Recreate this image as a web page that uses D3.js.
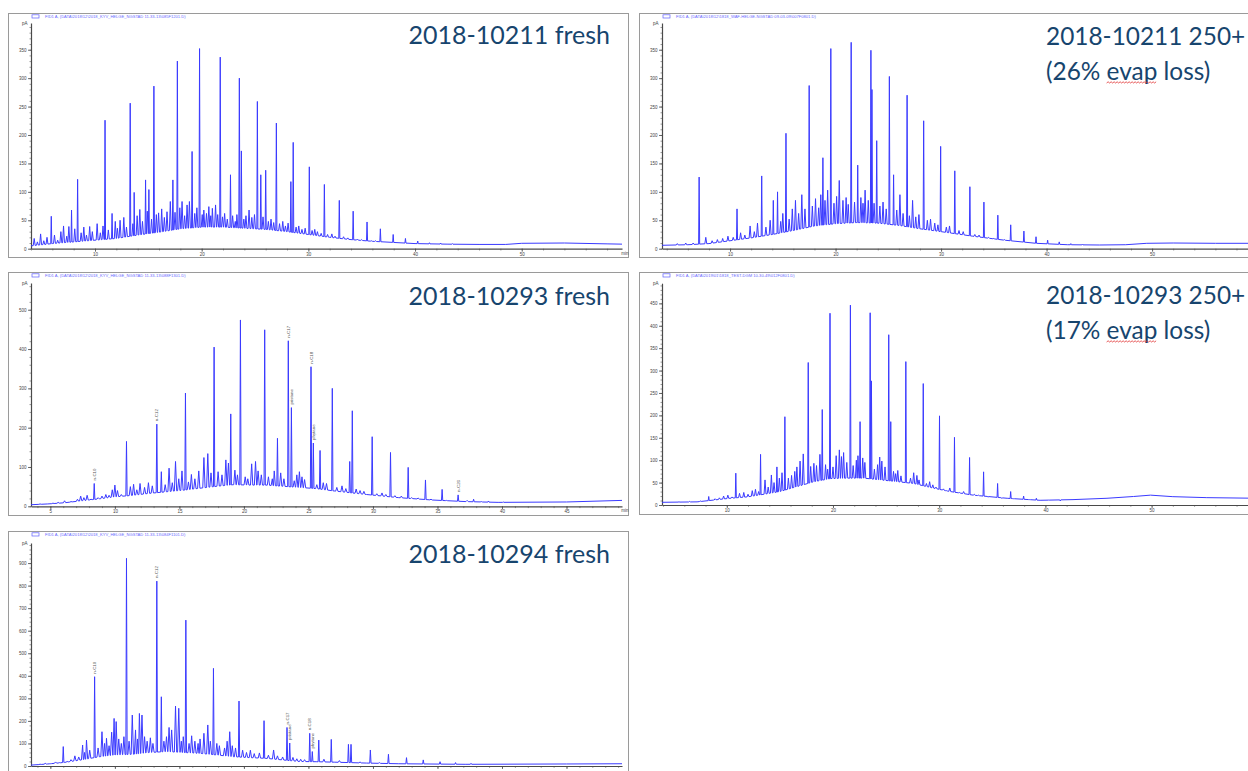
<!DOCTYPE html>
<html>
<head>
<meta charset="utf-8">
<script src="https://cdn.jsdelivr.net/npm/d3@7"></script>
<style>
  body { margin: 0; background: #fff; }
  svg { display: block; }
</style>
</head>
<body>
<svg id="chart" width="1248" height="771"></svg>
<script>
// ---- data: [time (min), signal (pA)] ----

// 2018-10211 fresh
var p1Base = [[4,5],[6,9],[8,12],[10,15],[12,18],[14,24],[16,29],[18,35],[20,38],[22,38],[24,36],[26,34],[28,30],[30,25],[32,20],[34,16],[36,13],[38,11],[40,9],[43,8],[46,7.5],[48.5,7.5],[50,9.5],[54,10],[58,8.5],[59.4,8]];
var p1Peaks = [[5.9,57],[7.8,68],[8.37,122],[10.94,226],[11.6,62],[13.3,256],[13.67,99],[14.74,121],[15.05,104],[15.52,286],[17.3,121],[17.72,330],[19.1,171],[19.8,352],[21.74,337],[22.7,130],[23.53,300],[23.72,172],[25.22,259],[25.54,130],[26.0,138],[27.0,221],[28.36,118],[28.58,187],[30.09,144],[31.5,113],[32.9,85],[34.2,66],[35.5,47],[36.75,35],[37.95,25],[39.1,18],[40.25,13.5],[41.35,10.5],[42.4,10],[43.5,9]];
var p1Minor = [[4.3,18],[4.6,12],[4.9,26],[5.2,14],[5.5,20],[6.2,24],[6.5,15],[6.8,30],[7.05,40],[7.35,22],[7.55,39],[8.1,35],[8.7,28],[8.95,38],[9.2,24],[9.5,39],[9.75,30],[10.2,44],[10.5,28],[10.75,40],[11.25,33],[11.9,48],[12.1,36],[12.35,50],[12.7,55],[12.95,38],[13.55,44],[13.95,58],[14.2,69],[14.45,48],[14.9,66],[15.3,52],[15.75,60],[15.96,63],[16.25,70],[16.5,55],[16.75,65],[17.06,83],[17.5,64],[17.95,72],[18.16,83],[18.4,58],[18.63,77],[18.85,83],[19.35,62],[19.55,72],[20.05,60],[20.2,68],[20.45,62],[20.67,74],[20.85,58],[21.0,71],[21.3,77],[21.5,60],[21.95,56],[22.15,62],[22.4,52],[22.9,58],[23.15,48],[23.3,60],[23.95,52],[24.15,58],[24.44,68],[24.7,55],[24.95,60],[25.75,56],[26.25,48],[26.5,52],[26.75,46],[27.3,44],[27.6,48],[27.85,40],[28.1,45],[28.85,38],[29.1,40],[29.4,34],[29.7,36],[30.35,32],[30.6,34],[30.85,30],[31.2,27],[31.8,25],[32.2,26],[32.5,22],[33.3,21],[33.7,19],[34.6,17],[35.0,16],[35.9,14],[36.3,14]];

// 2018-10211 250+
var p2Base = [[3.55,6],[6,7],[8,9],[10,14],[12,19],[14,25],[16,32],[18,40],[20,44],[22,46],[24,45],[26,41],[28,35],[30,30],[33,22],[36,15],[39,9.5],[42,7],[45,6.5],[47.5,7],[49.5,9.5],[52,10],[56,9.5],[60,9.5]];
var p2Peaks = [[7.07,126],[10.66,70],[13.0,128],[14.1,85],[14.5,100],[15.3,203],[17.5,287],[18.8,160],[19.55,352],[21.48,363],[22.1,147],[23.35,349],[23.45,280],[23.9,190],[25.1,303],[25.5,130],[26.78,270],[28.35,225],[29.96,180],[31.3,137],[32.73,109],[34.06,82],[35.38,59],[36.6,42],[37.85,31],[39.0,21],[40.1,15],[41.2,12],[42.3,9],[43.4,8]];
var p2Minor = [[5.0,9],[5.8,10],[6.5,10],[7.7,20],[8.3,14],[8.8,16],[9.3,18],[9.8,22],[10.3,20],[11.0,28],[11.4,24],[11.9,40],[12.3,30],[12.6,45],[13.4,38],[13.8,50],[14.8,48],[15.0,62],[15.6,52],[15.9,70],[16.2,85],[16.5,62],[16.8,95],[17.1,70],[17.8,75],[18.1,88],[18.4,72],[18.6,95],[19.0,85],[19.25,103],[19.85,80],[20.1,92],[20.35,120],[20.7,85],[21.0,90],[21.2,78],[21.8,82],[22.4,90],[22.6,80],[22.8,103],[23.1,85],[23.65,80],[24.2,75],[24.5,82],[24.8,70],[25.8,68],[26.1,95],[26.4,62],[27.0,58],[27.3,85],[27.6,56],[27.9,60],[28.7,50],[29.0,52],[29.4,45],[29.7,42],[30.5,38],[30.8,40],[31.7,32],[32.1,30],[33.2,25],[33.6,24],[34.5,20],[35.0,18],[36.0,16]];

// 2018-10293 fresh
var p3Base = [[3.5,4],[4.8,6],[6.1,9],[7.4,14],[8.8,19],[10,24],[11.4,28],[12.7,33],[14,37],[15.3,41],[16.6,46],[17.9,51],[19.2,55],[20.5,54],[21.7,54],[23,51],[24.3,48],[25.6,45],[27,39],[29.5,30],[32,22],[34.6,16],[37.2,12],[39.7,10],[45,11],[49.3,15]];
var p3Peaks = [[8.4,58],[10.9,165],[13.25,209],[13.6,88],[15.47,288],[17.69,405],[18.98,235],[19.73,474],[21.61,449],[22.6,173],[23.44,421],[23.68,251],[25.2,355],[25.38,161],[25.9,142],[26.85,300],[28.2,114],[28.4,243],[29.94,177],[31.36,137],[32.73,99],[34.07,67],[35.36,43],[36.6,29],[37.8,18],[38.95,13.5],[40.1,11]];
var p3Minor = [[4.2,6],[5.2,8],[5.6,10],[6.1,14],[6.6,12],[7.1,18],[7.35,26],[7.6,22],[7.85,28],[8.15,18],[8.7,22],[9.0,26],[9.3,30],[9.55,28],[9.8,42],[10.0,54],[10.2,40],[10.5,30],[11.2,50],[11.45,56],[11.7,42],[11.95,58],[12.3,48],[12.6,60],[12.9,52],[13.9,55],[14.2,97],[14.45,60],[14.7,114],[14.95,70],[15.2,90],[15.7,62],[15.93,81],[16.2,70],[16.5,90],[16.9,124],[17.2,134],[17.45,85],[18.0,88],[18.3,80],[18.6,118],[18.8,110],[19.3,92],[19.5,80],[20.1,75],[20.3,70],[20.6,108],[20.9,114],[21.1,90],[21.35,80],[21.9,75],[22.2,70],[22.35,90],[22.85,85],[23.1,70],[23.9,65],[24.1,80],[24.3,88],[24.5,75],[24.7,68],[25.65,55],[26.15,60],[26.4,58],[27.2,48],[27.6,52],[27.9,45],[28.7,44],[29.0,40],[29.3,38],[30.3,32],[30.7,34],[31.0,30],[31.7,27],[32.2,26],[33.0,22],[33.5,21],[34.5,18],[35.7,15],[37.3,15],[38.4,12]];
var p3Labels = [[8.4,58,"n-C10"],[13.25,209,"n-C12"],[23.44,421,"n-C17"],[23.68,251,"pristane"],[25.2,355,"n-C18"],[25.38,161,"phytane"],[36.6,29,"n-C26"]];

// 2018-10293 250+
var p4Base = [[3.9,6],[7.2,7],[8.75,11],[10.3,15],[11.9,18],[13.5,24],[15,30],[16.6,41],[18.2,52],[19.8,59],[21.3,60],[22.9,60],[24.5,56],[26.1,52],[27.6,48],[29.2,39],[30.8,31],[33.2,22],[36.4,15],[39.5,10.5],[42.6,12],[45.8,15],[48.3,19],[49.9,22],[52,18.6],[55.2,16.4],[60,15]];
var p4Peaks = [[8.3,19],[10.85,71],[13.18,113],[14.72,85],[15.47,197],[17.67,318],[18.99,213],[19.72,428],[21.64,446],[22.55,186],[23.5,429],[23.62,277],[25.25,380],[25.44,186],[26.86,320],[28.5,271],[30.03,199],[31.44,151],[32.86,106],[34.18,74],[35.5,48],[36.73,30],[37.95,20],[39.15,15],[40.3,11],[41.4,9]];
var p4Minor = [[5.5,7],[6.5,8],[7.5,9],[8.9,14],[9.3,16],[9.7,20],[10.1,22],[10.5,18],[11.2,26],[11.6,28],[12.0,24],[12.4,32],[12.7,35],[13.0,30],[13.6,56],[13.9,40],[14.2,67],[14.45,50],[14.95,60],[15.2,72],[15.8,60],[16.1,66],[16.4,75],[16.6,85],[16.9,98],[17.2,114],[17.9,86],[18.2,93],[18.45,88],[18.77,113],[19.3,90],[19.5,80],[20.0,85],[20.3,110],[20.6,123],[20.8,108],[21.0,117],[21.3,95],[21.9,88],[22.2,100],[22.35,110],[22.8,105],[23.0,95],[23.9,80],[24.2,90],[24.4,107],[24.6,98],[24.9,85],[25.7,75],[25.9,70],[26.1,77],[26.4,65],[27.3,60],[27.6,72],[27.9,66],[28.1,56],[28.8,48],[29.1,52],[29.4,45],[29.7,40],[30.4,36],[30.7,32],[31.0,38],[31.9,28],[32.3,30],[33.3,24],[33.7,22],[34.6,18],[35.9,15],[37.0,14],[38.5,12]];

// 2018-10294 fresh
var p5Base = [[3.5,4],[4.8,9],[6.1,16],[7.4,27],[8.8,41],[10,49],[11.4,52],[12.7,60],[14,64],[15.3,60],[16.6,56],[17.9,49],[19.2,41],[20.5,37],[21.7,34],[23,27],[24.3,20],[25.6,19],[27,17],[29.5,13],[32,10],[37.2,7.5],[45,9],[49.3,10]];
var p5Peaks = [[6.0,86],[8.43,396],[10.9,921],[13.25,820],[13.6,307],[15.5,647],[17.64,433],[19.62,288],[21.56,201],[23.34,171],[23.55,102],[25.1,145],[25.3,64],[25.8,115],[26.77,118],[28.1,96],[28.3,96],[29.8,71],[31.2,52],[32.6,37],[33.9,27],[35.2,19],[36.4,15],[37.6,12]];
var p5Minor = [[4.2,8],[4.6,12],[5.0,10],[5.4,18],[5.7,15],[6.3,20],[6.6,28],[6.9,45],[7.2,40],[7.5,93],[7.65,60],[7.8,115],[8.05,70],[8.7,80],[9.0,152],[9.2,100],[9.35,123],[9.55,90],[9.75,150],[9.94,211],[10.1,197],[10.3,120],[10.5,100],[10.7,130],[11.1,110],[11.35,226],[11.6,160],[11.75,120],[11.9,233],[12.1,226],[12.3,130],[12.5,110],[12.75,125],[12.95,100],[13.8,110],[14.0,130],[14.2,171],[14.4,160],[14.7,266],[14.95,256],[15.15,110],[15.3,130],[15.75,100],[15.95,134],[16.2,110],[16.45,100],[16.6,120],[16.9,145],[17.2,182],[17.4,110],[17.9,100],[18.1,90],[18.5,80],[18.7,110],[18.9,152],[19.1,90],[19.35,80],[19.9,70],[20.2,60],[20.5,70],[20.8,55],[21.2,58],[21.9,48],[22.3,71],[22.6,45],[23.0,40],[23.8,38],[24.1,32],[24.4,30],[24.7,28],[26.2,30],[27.4,24],[29.0,18],[30.5,15]];
var p5Labels = [[8.43,396,"n-C10"],[13.25,820,"n-C12"],[23.34,171,"n-C17"],[23.55,102,"pristane"],[25.1,145,"n-C18"],[25.3,64,"phytane"]];

var xTicks10 = [10, 20, 30, 40, 50];
var xTicks5 = [5, 10, 15, 20, 25, 30, 35, 40, 45];
var yTicks400 = [0, 50, 100, 150, 200, 250, 300, 350];
var yTicks500 = [0, 100, 200, 300, 400, 500];
var yTicks450 = [0, 50, 100, 150, 200, 250, 300, 350, 400, 450];
var yTicks900 = [0, 100, 200, 300, 400, 500, 600, 700, 800, 900];

var panels = [
  {title: ["2018-10211 fresh"], legend: "FID1 A, (DATA\\2018\\12\\2018_KYV_HELGE_NGSTAD 11-33-13\\085F1201.D)",
   base: p1Base, peaks: p1Peaks, minor: p1Minor, labels: [], xLabels: true,
   box: [8, 13, 628, 257], xDom: [4, 59.4], xRange: [31, 622], yDom: [0, 397], yRange: [248.7, 23],
   xTicks: xTicks10, xMinorStep: 2, yTicks: yTicks400, yMinorStep: 10, titleX: 610, titleAnchor: "end", titleY: 44, titleSize: 25},
  {title: ["2018-10211 250+", "(26% evap loss)"], legend: "FID1 A, (DATA\\2018\\12\\1818_WAF-HELGE-NGSTAD 09-03-09\\007F0801.D)",
   base: p2Base, peaks: p2Peaks, minor: p2Minor, labels: [], xLabels: true,
   box: [639, 13, 1262, 257], xDom: [3.55, 60], xRange: [662, 1257.6], yDom: [0, 397], yRange: [248.7, 23],
   xTicks: xTicks10, xMinorStep: 2, yTicks: yTicks400, yMinorStep: 10, titleX: 1046, titleAnchor: "start", titleY: 45, titleSize: 24.4},
  {title: ["2018-10293 fresh"], legend: "FID1 A, (DATA\\2018\\12\\2018_KYV_HELGE_NGSTAD 11-33-13\\088F1301.D)",
   base: p3Base, peaks: p3Peaks, minor: p3Minor, labels: p3Labels, xLabels: true,
   box: [8, 272, 628, 515], xDom: [3.5, 49.3], xRange: [31, 622], yDom: [0, 568], yRange: [506.3, 283],
   xTicks: xTicks5, xMinorStep: 1, yTicks: yTicks500, yMinorStep: 20, titleX: 610, titleAnchor: "end", titleY: 305, titleSize: 25},
  {title: ["2018-10293 250+", "(17% evap loss)"], legend: "FID1 A, (DATA\\2019\\01\\1818_TEST-DGM 10-30-49\\012F0801.D)",
   base: p4Base, peaks: p4Peaks, minor: p4Minor, labels: [], xLabels: true,
   box: [639, 272, 1262, 514], xDom: [3.9, 60], xRange: [662, 1257.8], yDom: [0, 495], yRange: [505, 283.2],
   xTicks: xTicks10, xMinorStep: 2, yTicks: yTicks450, yMinorStep: 10, titleX: 1046, titleAnchor: "start", titleY: 304, titleSize: 24.4},
  {title: ["2018-10294 fresh"], legend: "FID1 A, (DATA\\2018\\12\\2018_KYV_HELGE_NGSTAD 11-33-13\\084F1101.D)",
   base: p5Base, peaks: p5Peaks, minor: p5Minor, labels: p5Labels, xLabels: false,
   box: [8, 531, 628, 790], xDom: [3.5, 49.3], xRange: [31, 622], yDom: [0, 989], yRange: [766, 543],
   xTicks: xTicks5, xMinorStep: 1, yTicks: yTicks900, yMinorStep: 20, titleX: 610, titleAnchor: "end", titleY: 563, titleSize: 25}
];

var svg = d3.select("#chart");
var small = "Liberation Sans, Arial, sans-serif";
var traceColor = "#3a3aff";
var titleFont = "Lato, 'Open Sans', sans-serif";

// value of the hump (baseline) at time t, used for the feet of each spike
function baseAt(base, t) {
  var i = d3.bisector(function(d) { return d[0]; }).right(base, t);
  if (i <= 0) return base[0][1];
  if (i >= base.length) return base[base.length - 1][1];
  var a = base[i - 1], b = base[i];
  return a[1] + (b[1] - a[1]) * (t - a[0]) / (b[0] - a[0]);
}

function tracePoints(p) {
  var spikes = p.peaks.map(function(d) { return {t: d[0], v: d[1], w: 0.05}; })
    .concat(p.minor.map(function(d) { return {t: d[0], v: d[1], w: 0.09}; }));
  var pts = [];
  p.base.forEach(function(b) {
    if (!spikes.some(function(s) { return Math.abs(s.t - b[0]) < s.w; })) pts.push([b[0], b[1]]);
  });
  spikes.forEach(function(s) {
    pts.push([s.t - s.w, baseAt(p.base, s.t - s.w)]);
    pts.push([s.t, s.v]);
    pts.push([s.t + s.w, baseAt(p.base, s.t + s.w)]);
  });
  pts.sort(function(a, b) { return a[0] - b[0]; });
  return pts;
}

function styleAxis(sel) {
  sel.select(".domain").attr("stroke", "#4a4a4a").attr("stroke-width", 1.2);
  sel.selectAll(".tick line").attr("stroke", "#4a4a4a").attr("stroke-width", 0.8);
  sel.selectAll(".tick text").attr("font-size", "4.5px").attr("fill", "#444").attr("font-family", small);
}

function squiggle(g, x0, x1, yy) {
  var path = d3.path();
  path.moveTo(x0, yy);
  var up = true;
  for (var xx = x0 + 1.5; xx <= x1; xx += 1.5) {
    path.lineTo(xx, up ? yy - 1.2 : yy);
    up = !up;
  }
  g.append("path").attr("d", path.toString()).attr("fill", "none")
    .attr("stroke", "#e03030").attr("stroke-width", 0.8);
}

panels.forEach(function(p) {
  var g = svg.append("g");
  var b = p.box;

  g.append("rect")
    .attr("x", b[0] + 0.5).attr("y", b[1] + 0.5)
    .attr("width", b[2] - b[0]).attr("height", b[3] - b[1])
    .attr("fill", "#fff").attr("stroke", "#9a9a9a").attr("stroke-width", 1);

  var x = d3.scaleLinear().domain(p.xDom).range(p.xRange);
  var y = d3.scaleLinear().domain(p.yDom).range(p.yRange);

  // legend line on top
  g.append("rect").attr("x", b[0] + 24).attr("y", b[1] + 1.8).attr("width", 7).attr("height", 3.2)
    .attr("fill", "none").attr("stroke", "#6060ff").attr("stroke-width", 0.7);
  g.append("text").attr("x", b[0] + 37).attr("y", b[1] + 4.8)
    .attr("font-size", "4.1px").attr("font-family", small).attr("fill", "#6a6aff")
    .text(p.legend);

  // y axis
  var yMinor = d3.range(0, p.yDom[1], p.yMinorStep);
  g.append("g").attr("transform", "translate(" + p.xRange[0] + ",0)")
    .call(d3.axisLeft(y).tickValues(yMinor).tickSize(1.5).tickFormat(""))
    .call(function(s) { s.select(".domain").remove(); s.selectAll(".tick line").attr("stroke", "#555").attr("stroke-width", 0.6); });
  g.append("g").attr("transform", "translate(" + p.xRange[0] + ",0)")
    .call(d3.axisLeft(y).tickValues(p.yTicks).tickSize(3).tickPadding(1.5).tickSizeOuter(0))
    .call(styleAxis);
  g.append("text").attr("x", p.xRange[0] - 3.5).attr("y", p.yRange[1] + 2).attr("text-anchor", "end")
    .attr("font-size", "4.5px").attr("font-family", small).attr("fill", "#444").text("pA");

  // x axis
  var xMinor = d3.range(Math.ceil(p.xDom[0] / p.xMinorStep) * p.xMinorStep, p.xDom[1], p.xMinorStep);
  g.append("g").attr("transform", "translate(0," + p.yRange[0] + ")")
    .call(d3.axisBottom(x).tickValues(xMinor).tickSize(1.8).tickFormat(""))
    .call(function(s) { s.select(".domain").remove(); s.selectAll(".tick line").attr("stroke", "#555").attr("stroke-width", 0.6); });
  var xAxis = d3.axisBottom(x).tickValues(p.xTicks).tickSize(3).tickPadding(1).tickSizeOuter(0);
  if (!p.xLabels) xAxis.tickFormat("");
  g.append("g").attr("transform", "translate(0," + p.yRange[0] + ")")
    .call(xAxis)
    .call(styleAxis);
  if (p.xLabels && p.xRange[1] < 1248) {
    g.append("text").attr("x", p.xRange[1] + 3).attr("y", p.yRange[0] + 6).attr("text-anchor", "middle")
      .attr("font-size", "4.5px").attr("font-family", small).attr("fill", "#444").text("min");
  }

  // chromatogram trace
  var line = d3.line().x(function(d) { return x(d[0]); }).y(function(d) { return y(d[1]); });
  g.append("path").datum(tracePoints(p))
    .attr("d", line)
    .attr("fill", "none").attr("stroke", traceColor).attr("stroke-width", 1)
    .attr("stroke-linejoin", "round");

  // peak annotations
  p.labels.forEach(function(l) {
    g.append("text")
      .attr("transform", "translate(" + (x(l[0]) + 1.5) + "," + (y(l[1]) - 3) + ") rotate(-90)")
      .attr("font-size", "4.4px").attr("font-family", small).attr("fill", "#555")
      .text(l[2]);
  });

  // title
  g.append("text").attr("x", p.titleX).attr("y", p.titleY)
    .attr("text-anchor", p.titleAnchor)
    .attr("font-family", titleFont).attr("font-size", p.titleSize + "px")
    .attr("fill", "#17456e").text(p.title[0]);
  if (p.title.length > 1) {
    var t2 = g.append("text").attr("x", p.titleX).attr("y", p.titleY + 34.5)
      .attr("font-family", titleFont).attr("font-size", p.titleSize + "px")
      .attr("fill", "#17456e").text(p.title[1]);
    // spell-check underline under "evap"
    var pre = p.title[1].indexOf("evap");
    var n0 = t2.node();
    var x0 = p.titleX + n0.getSubStringLength(0, pre);
    var x1 = x0 + n0.getSubStringLength(pre, 4);
    squiggle(g, x0, x1, p.titleY + 34.5 + 3.5);
  }
});
</script>
</body>
</html>
